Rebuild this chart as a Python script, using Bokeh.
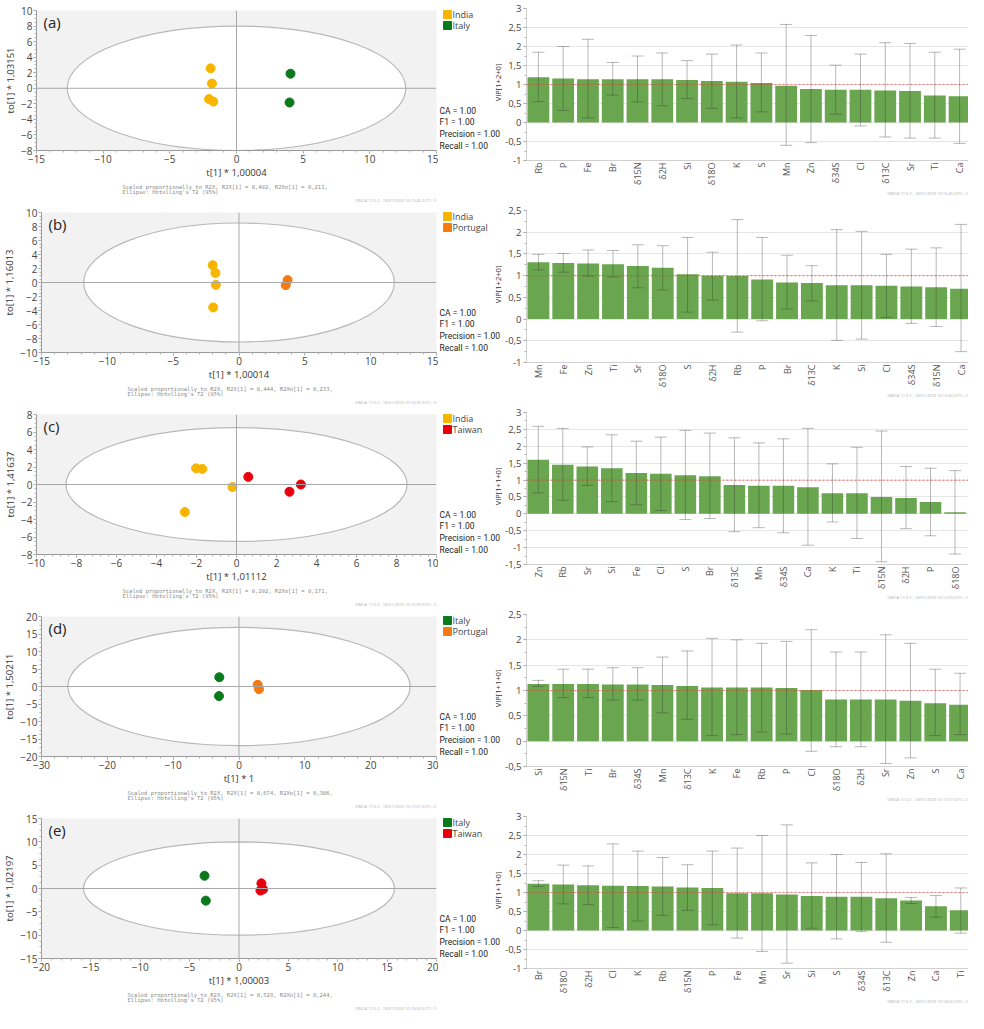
import math
from bokeh.plotting import figure
from bokeh.models import (ColumnDataSource, Label, Span, Whisker, TeeHead,
                          SingleIntervalTicker, FixedTicker, CustomJSTickFormatter, Title)
from bokeh.core.properties import value
from bokeh.layouts import row, column
from bokeh.embed import file_html
from bokeh.resources import INLINE

FONT = "Open Sans"
COL = {"India": "#f7b500", "Italy": "#0b7a1c", "Portugal": "#f57a10", "Taiwan": "#e8000b"}

# ---------------- scatter (OPLS-DA score) data ----------------
a_india_x = [-1.94, -1.84, -2.06, -1.74]
a_india_y = [2.56, 0.61, -1.38, -1.71]
a_italy_x = [4.05, 3.98]
a_italy_y = [1.87, -1.83]

b_india_x = [-2.00, -1.79, -1.76, -1.96]
b_india_y = [2.48, 1.36, -0.34, -3.56]
b_portugal_x = [3.69, 3.55]
b_portugal_y = [0.34, -0.38]

c_india_x = [-2.02, -1.71, -0.20, -2.58]
c_india_y = [1.85, 1.78, -0.29, -3.15]
c_taiwan_x = [0.59, 2.65, 3.22]
c_taiwan_y = [0.87, -0.83, 0.00]

d_italy_x = [-2.99, -3.04]
d_italy_y = [2.65, -2.74]
d_portugal_x = [2.84, 3.04]
d_portugal_y = [0.49, -0.76]

e_italy_x = [-3.49, -3.36]
e_italy_y = [2.73, -2.60]
e_taiwan_x = [2.27, 2.44, 2.17]
e_taiwan_y = [1.11, -0.17, -0.44]

# Hotelling's T2 (95%) ellipse semi-axes (t, to)
ellipse_a = [12.7, 11.8, 8.53, 26.0, 15.75]
ellipse_b = [8.0, 8.5, 6.5, 16.9, 10.0]

tags = ["(a)", "(b)", "(c)", "(d)", "(e)"]
t_labels = ["t[1] * 1,00004", "t[1] * 1,00014", "t[1] * 1,01112", "t[1] * 1", "t[1] * 1,00003"]
to_labels = ["to[1] * 1,03151", "to[1] * 1,16013", "to[1] * 1,41637", "to[1] * 1,50211", "to[1] * 1,02197"]
r2x = ["0,492", "0,444", "0,292", "0,674", "0,528"]
r2xo = ["0,211", "0,233", "0,171", "0,306", "0,244"]
stamps = ["10:13:46", "10:14:30", "10:15:59", "10:17:27", "10:18:04"]
metrics = ["CA = 1.00", "F1 = 1.00", "Precision = 1.00", "Recall = 1.00"]

# ---------------- VIP data ----------------
a_vars = ["Rb", "P", "Fe", "Br", "δ15N", "δ2H", "Si", "δ18O", "K", "S", "Mn", "Zn", "δ34S", "Cl", "δ13C", "Sr", "Ti", "Ca"]
a_vip = [1.19, 1.16, 1.14, 1.14, 1.14, 1.14, 1.12, 1.09, 1.07, 1.04, 0.97, 0.88, 0.86, 0.86, 0.84, 0.83, 0.71, 0.69]
a_hi = [1.85, 2.00, 2.19, 1.58, 1.75, 1.83, 1.63, 1.80, 2.04, 1.83, 2.58, 2.29, 1.51, 1.80, 2.10, 2.08, 1.85, 1.93]
a_lo = [0.55, 0.32, 0.12, 0.72, 0.54, 0.44, 0.63, 0.37, 0.12, 0.28, -0.60, -0.53, 0.22, -0.09, -0.38, -0.41, -0.41, -0.55]

b_vars = ["Mn", "Fe", "Zn", "Ti", "Sr", "δ18O", "S", "δ2H", "Rb", "P", "Br", "δ13C", "K", "Si", "Cl", "δ34S", "δ15N", "Ca"]
b_vip = [1.31, 1.29, 1.28, 1.26, 1.22, 1.18, 1.03, 1.00, 0.99, 0.91, 0.84, 0.83, 0.78, 0.78, 0.77, 0.75, 0.73, 0.70]
b_hi = [1.49, 1.51, 1.59, 1.58, 1.71, 1.69, 1.88, 1.54, 2.29, 1.88, 1.47, 1.23, 2.06, 2.02, 1.49, 1.61, 1.64, 2.18]
b_lo = [1.13, 1.08, 0.99, 0.97, 0.72, 0.67, 0.16, 0.44, -0.30, -0.04, 0.23, 0.42, -0.49, -0.46, 0.04, -0.10, -0.17, -0.75]

c_vars = ["Zn", "Rb", "Sr", "Si", "Fe", "Cl", "S", "Br", "δ13C", "Mn", "δ34S", "Ca", "K", "Ti", "δ15N", "δ2H", "P", "δ18O"]
c_vip = [1.60, 1.45, 1.40, 1.35, 1.21, 1.19, 1.14, 1.11, 0.85, 0.83, 0.83, 0.79, 0.61, 0.61, 0.50, 0.47, 0.35, 0.05]
c_hi = [2.59, 2.53, 1.98, 2.34, 2.15, 2.27, 2.47, 2.39, 2.25, 2.10, 2.22, 2.53, 1.48, 1.97, 2.45, 1.40, 1.35, 1.28]
c_lo = [0.62, 0.40, 0.84, 0.36, 0.27, 0.10, -0.17, -0.14, -0.53, -0.41, -0.56, -0.93, -0.24, -0.73, -1.42, -0.44, -0.65, -1.19]

d_vars = ["Si", "δ15N", "Ti", "Br", "δ34S", "Mn", "δ13C", "K", "Fe", "Rb", "P", "Cl", "δ18O", "δ2H", "Sr", "Zn", "S", "Ca"]
d_vip = [1.13, 1.13, 1.13, 1.12, 1.12, 1.11, 1.09, 1.06, 1.06, 1.06, 1.05, 1.01, 0.82, 0.82, 0.82, 0.80, 0.75, 0.72]
d_hi = [1.20, 1.42, 1.42, 1.45, 1.45, 1.66, 1.78, 2.03, 2.00, 1.93, 1.97, 2.20, 1.76, 1.76, 2.10, 1.93, 1.42, 1.34]
d_lo = [1.08, 0.86, 0.86, 0.81, 0.81, 0.56, 0.43, 0.11, 0.13, 0.18, 0.14, -0.20, -0.11, -0.11, -0.44, -0.33, 0.11, 0.13]

e_vars = ["Br", "δ18O", "δ2H", "Cl", "K", "Rb", "δ15N", "P", "Fe", "Mn", "Sr", "Si", "S", "δ34S", "δ13C", "Zn", "Ca", "Ti"]
e_vip = [1.23, 1.21, 1.19, 1.18, 1.17, 1.16, 1.13, 1.12, 0.98, 0.98, 0.95, 0.91, 0.89, 0.89, 0.85, 0.79, 0.64, 0.53]
e_hi = [1.31, 1.72, 1.70, 2.28, 2.09, 1.92, 1.73, 2.09, 2.17, 2.50, 2.78, 1.78, 2.00, 1.79, 2.02, 0.87, 0.92, 1.12]
e_lo = [1.16, 0.70, 0.68, 0.08, 0.25, 0.40, 0.53, 0.15, -0.20, -0.55, -0.86, 0.06, -0.22, -0.03, -0.31, 0.71, 0.35, -0.07]

vip_labels = ["VIP[1+2+0]", "VIP[1+2+0]", "VIP[1+1+0]", "VIP[1+1+0]", "VIP[1+1+0]"]

# ---------------- layout constants ----------------
SW, TW, BW, H = 438, 64, 466, 202


def style_axis(ax, tick_size="10px"):
    ax.axis_line_color = "#9a9a9a"
    ax.major_tick_line_color = "#9a9a9a"
    ax.minor_tick_line_color = "#b5b5b5"
    ax.major_tick_in = 0
    ax.major_tick_out = 3
    ax.minor_tick_in = 0
    ax.minor_tick_out = 2
    ax.major_label_standoff = 1
    ax.axis_label_standoff = 0
    ax.major_label_text_font = FONT
    ax.major_label_text_font_size = tick_size
    ax.major_label_text_color = "#444444"
    ax.axis_label_text_font = FONT
    ax.axis_label_text_font_size = "9.5px"
    ax.axis_label_text_font_style = "normal"
    ax.axis_label_text_color = "#333333"


def scatter_panel(i, groups, xr, yr, xt, yt):
    p = figure(width=SW, height=H, x_range=xr, y_range=yr, output_backend="svg",
               toolbar_location=None, min_border_left=36, min_border_right=2,
               min_border_top=10, min_border_bottom=44, frame_align=False)
    p.background_fill_color = "#f2f2f2"
    p.border_fill_color = "white"
    p.outline_line_color = None
    p.grid.visible = False
    p.ellipse(x=[0], y=[0], width=[2 * ellipse_a[i]], height=[2 * ellipse_b[i]],
              fill_color="white", line_color="#b8b8b8", line_width=1.2)
    p.add_layout(Span(location=0, dimension="height", line_color="#a8a8a8", line_width=1))
    p.add_layout(Span(location=0, dimension="width", line_color="#a8a8a8", line_width=1))
    for name, xs, ys in groups:
        p.scatter(x=xs, y=ys, size=9, fill_color=COL[name], line_color=COL[name])
    p.xaxis.ticker = SingleIntervalTicker(interval=xt, num_minor_ticks=5)
    p.yaxis.ticker = SingleIntervalTicker(interval=yt, num_minor_ticks=4)
    p.xaxis.axis_label = t_labels[i]
    p.yaxis.axis_label = to_labels[i]
    style_axis(p.xaxis[0])
    style_axis(p.yaxis[0])
    p.yaxis.axis_label_standoff = 1
    p.add_layout(Label(x=xr[0], y=yr[1], x_offset=7, y_offset=-1, text=tags[i],
                       text_font=FONT, text_font_size="15px", text_color="#222222",
                       text_baseline="top"))
    p.add_layout(Title(text="Scaled proportionally to R2X, R2X[1] = %s, R2Xo[1] = %s,\nEllipse: Hotelling's T2 (95%%)" % (r2x[i], r2xo[i]),
                       align="left", offset=86, standoff=0, text_font="DejaVu Sans Mono",
                       text_font_size="5.5px", text_font_style="normal", text_color="#8a8a8a",
                       text_line_height=0.95), "below")
    p.add_layout(Title(text="SIMCA 17.0.2 - 18/01/2023 %s (UTC+1)" % stamps[i],
                       align="right", offset=0, standoff=0, text_font=FONT,
                       text_font_size="4px", text_font_style="normal", text_color="#b0b0b0",
                       text_line_height=1.0), "below")
    return p


def text_panel(i, groups):
    # a small side figure holding the legend, the metrics and the VIP axis title
    p = figure(width=TW, height=H, x_range=(0, TW), y_range=(0, H), output_backend="svg",
               toolbar_location=None, min_border=0, x_axis_type=None, y_axis_type=None,
               title=None, frame_align=False)
    p.outline_line_color = None
    p.grid.visible = False
    n = len(groups)
    key_y = [H - 14 - 11 * k for k in range(n)]
    p.scatter(x=[9] * n, y=key_y, marker="square", size=8,
              fill_color=[COL[g] for g in groups], line_color=[COL[g] for g in groups])
    p.text(x=[14] * n, y=key_y, text=groups, text_font=value(FONT), text_font_size="9px",
           text_color="#444444", text_baseline="middle", text_align="left")
    for k, m in enumerate(metrics):
        p.add_layout(Label(x=1, y=H - 105 - 11.7 * k, text=m, text_font="Roboto",
                           text_font_size="8.5px", text_color="#222222", text_baseline="top"))
    p.add_layout(Label(x=TW - 5, y=H - 82, angle=math.pi / 2, text=vip_labels[i],
                       text_font=FONT, text_font_size="7.5px", text_color="#333333",
                       text_align="center", text_baseline="middle"))
    return p


def bar_panel(i, names, vip, hi, lo, yr, xend):
    xs = list(range(len(names)))
    src = ColumnDataSource(dict(x=xs, top=vip, hi=hi, lo=lo))
    p = figure(width=BW, height=H, x_range=(-0.48, xend), y_range=yr, output_backend="svg",
               toolbar_location=None, min_border_left=22, min_border_right=0,
               min_border_top=8, min_border_bottom=42, frame_align=False)
    p.background_fill_color = "white"
    p.border_fill_color = "white"
    p.outline_line_color = None
    p.xgrid.visible = False
    p.ygrid.grid_line_color = "#e6e6e6"
    p.vbar(x="x", top="top", bottom=0, width=0.88, source=src, fill_color="#6aa64f",
           line_color=None)
    head = dict(size=12, line_color="#333333", line_alpha=0.35, line_width=1)
    p.add_layout(Whisker(source=src, base="x", upper="hi", lower="lo", level="overlay",
                         line_color="#333333", line_alpha=0.35, line_width=1,
                         upper_head=TeeHead(**head), lower_head=TeeHead(**head)))
    p.add_layout(Span(location=1, dimension="width", line_color="#ff2a2a", line_dash="2 2",
                      line_alpha=0.6, line_width=1.2))
    p.xaxis.ticker = FixedTicker(ticks=xs)
    p.xaxis.major_label_overrides = {k: v for k, v in zip(xs, names)}
    p.xaxis.major_label_orientation = math.pi / 2
    p.yaxis.ticker = SingleIntervalTicker(interval=0.5, num_minor_ticks=2)
    p.yaxis.formatter = CustomJSTickFormatter(code="return String(tick).replace('.', ',');")
    style_axis(p.xaxis[0], "9px")
    style_axis(p.yaxis[0], "9.5px")
    p.xaxis.major_label_standoff = 2
    p.yaxis.major_label_standoff = 2
    p.xaxis.major_tick_line_color = None
    p.xaxis.major_tick_out = 0
    p.xaxis.axis_line_color = "#d0d0d0"
    p.yaxis.axis_line_color = "#d0d0d0"
    p.xaxis.major_label_text_color = "#555555"
    p.add_layout(Title(text="SIMCA 17.0.2 - 18/01/2023 %s (UTC+1)" % stamps[i],
                       align="right", offset=0, standoff=0, text_font=FONT,
                       text_font_size="4px", text_font_style="normal",
                       text_color="#b0b0b0"), "below")
    return p


specs = [
    ([("India", a_india_x, a_india_y), ("Italy", a_italy_x, a_italy_y)], (-15, 15), (-8, 10), 5, 2,
     (a_vars, a_vip, a_hi, a_lo), (-1, 3), 17.36),
    ([("India", b_india_x, b_india_y), ("Portugal", b_portugal_x, b_portugal_y)], (-15, 15), (-10, 10), 5, 2,
     (b_vars, b_vip, b_hi, b_lo), (-1, 2.5), 17.3),
    ([("India", c_india_x, c_india_y), ("Taiwan", c_taiwan_x, c_taiwan_y)], (-10, 10), (-8, 8), 2, 2,
     (c_vars, c_vip, c_hi, c_lo), (-1.5, 3), 17.55),
    ([("Italy", d_italy_x, d_italy_y), ("Portugal", d_portugal_x, d_portugal_y)], (-30, 30), (-20, 20), 10, 5,
     (d_vars, d_vip, d_hi, d_lo), (-0.5, 2.5), 17.34),
    ([("Italy", e_italy_x, e_italy_y), ("Taiwan", e_taiwan_x, e_taiwan_y)], (-20, 20), (-15, 15), 5, 5,
     (e_vars, e_vip, e_hi, e_lo), (-1, 3), 17.31),
]

rows = []
for i, (groups, xr, yr, xt, yt, bars, byr, xend) in enumerate(specs):
    rows.append(row(
        scatter_panel(i, groups, xr, yr, xt, yt),
        text_panel(i, [g[0] for g in groups]),
        bar_panel(i, *bars, byr, xend)))

page = column(*rows)
open("out.html", "w").write(file_html(page, INLINE))
